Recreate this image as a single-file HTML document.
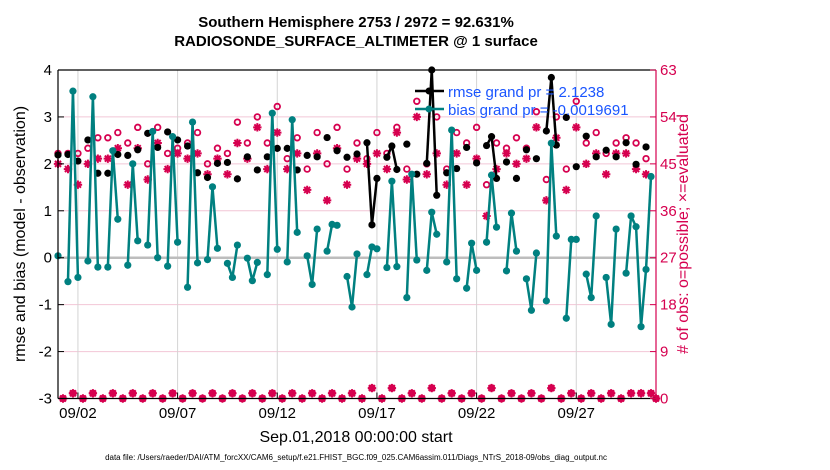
<!DOCTYPE html>
<html><head><meta charset="utf-8">
<style>
body{margin:0;background:#fff;}
svg{display:block;font-family:"Liberation Sans",sans-serif;}
</style></head>
<body>
<svg id="chart" width="830" height="470" viewBox="0 0 830 470" xmlns="http://www.w3.org/2000/svg">
<text x="356" y="27" font-size="15" font-weight="bold" text-anchor="middle">Southern Hemisphere 2753 / 2972 = 92.631%</text>
<text x="356" y="46" font-size="15" font-weight="bold" text-anchor="middle">RADIOSONDE_SURFACE_ALTIMETER @ 1 surface</text>
<text transform="translate(25,234) rotate(-90)" font-size="16" text-anchor="middle">rmse and bias (model - observation)</text>
<text transform="translate(688,234) rotate(-90)" font-size="16" fill="#d6004f" text-anchor="middle"># of obs: o=possible; ×=evaluated</text>
<text x="356" y="442" font-size="16" text-anchor="middle">Sep.01,2018 00:00:00 start</text>
<text x="356" y="460" font-size="8" text-anchor="middle">data file: /Users/raeder/DAI/ATM_forcXX/CAM6_setup/f.e21.FHIST_BGC.f09_025.CAM6assim.011/Diags_NTrS_2018-09/obs_diag_output.nc</text>
<g id="grid"></g>
<g id="marks"></g>
<g id="axes"></g>
<g id="legend">
  <line x1="415" y1="91" x2="444" y2="91" stroke="#000" stroke-width="2.5"/>
  <circle cx="429" cy="91" r="3.5" fill="#000"/>
  <text x="448" y="97" font-size="15" fill="#1a55ff">rmse grand pr = 2.1238</text>
  <line x1="415" y1="109" x2="444" y2="109" stroke="#008080" stroke-width="2.5"/>
  <circle cx="429" cy="109" r="3.5" fill="#008080"/>
  <text x="448" y="115" font-size="15" fill="#1a55ff">bias grand pr = -0.0019691</text>
</g>
</svg>
<script>
// 6-hourly slots starting Sep 01 00Z; slot index -> time
const bias = [0.04,null,-0.51,3.55,-0.42,null,-0.07,3.43,-0.2,null,-0.2,2.28,0.82,null,-0.16,2.0,0.36,null,0.27,2.69,0.0,null,-0.18,2.58,0.33,null,-0.63,2.89,-0.11,null,-0.04,1.51,0.2,null,-0.12,-0.42,0.27,null,-0.01,-0.49,-0.1,null,-0.36,3.08,0.18,null,-0.09,2.94,0.54,null,0.04,-0.57,0.61,null,0.14,0.71,0.69,null,-0.4,-1.05,0.08,null,-0.36,0.23,0.19,null,-0.21,1.63,-0.19,null,-0.85,1.78,-0.05,null,-0.27,0.97,0.5,null,-0.09,2.72,-0.45,null,-0.65,0.31,-0.27,null,0.33,1.76,0.65,null,-0.28,0.95,0.14,null,-0.45,-1.12,0.1,null,-0.92,2.44,0.46,null,-1.29,0.39,0.39,null,-0.35,-0.85,0.89,null,-0.42,-1.42,0.61,null,-0.33,0.89,0.66,-1.47,-0.25,1.73];
const rmse = [2.19,null,2.2,null,2.06,null,2.51,null,1.8,null,1.8,null,2.2,null,2.18,null,2.3,null,2.65,null,2.35,null,2.68,null,2.51,null,2.38,null,1.81,null,1.71,null,2.01,null,2.03,null,1.68,null,2.15,null,1.87,null,2.15,null,2.33,null,2.33,null,1.87,null,2.18,null,2.15,null,2.56,null,2.28,null,2.14,null,2.21,null,2.45,0.70,1.69,null,2.14,2.38,1.88,null,2.42,null,1.78,null,2.01,4.0,1.33,null,1.81,null,1.9,null,2.35,null,2.02,null,2.39,2.58,1.69,null,2.04,null,1.69,null,2.3,null,2.11,null,2.7,3.84,2.4,null,2.99,null,1.94,null,2.59,null,2.15,null,2.29,null,2.15,null,2.45,null,1.99,null,2.36,null];
const possible = [47,0,47,1,47,0,48,1,50,0,50,1,51,0,49,1,52,0,45,1,52,0,47,1,48,0,49,1,51,0,45,1,48,0,47,1,53,0,49,1,54,0,49,1,56,0,46,1,50,0,44,1,51,0,45,1,52,0,44,1,49,0,46,2,51,0,47,2,52,0,44,1,57,0,45,2,54,0,44,1,51,0,49,1,52,0,41,2,49,0,48,1,50,0,48,1,55,0,42,2,54,0,44,1,57,0,49,1,51,0,47,1,49,0,50,1,49,1,46,1,0];
const evaluated = [45,0,44,1,41,0,45,1,46,0,46,1,48,0,41,1,48,0,42,1,49,0,44,1,47,0,46,1,47,0,43,1,46,0,43,1,49,0,46,1,52,0,44,1,51,0,44,1,47,0,40,1,47,0,38,1,48,0,41,1,46,0,45,2,47,0,44,2,51,0,42,1,54,0,43,2,47,0,41,1,47,0,41,1,46,0,35,2,44,0,47,1,45,0,46,1,52,0,38,2,50,0,40,1,52,0,45,1,47,0,43,1,47,0,47,1,44,1,43,1,0];
const leftTicks = [-3,-2,-1,0,1,2,3,4];
const rightTicks = [0,9,18,27,36,45,54,63];
const dateTicks = ["09/02","09/07","09/12","09/17","09/22","09/27"];
const dateTickDays = [1,6,11,16,21,26];

const X0=58, X1=656, YT=70, YB=398.5;
const xDay = d => X0 + (X1-X0)*d/30;
const xSlot = i => xDay(i/4);
const yL = v => YB - (v+3)*(YB-YT)/7;
const yR = c => YB - c*(YB-YT)/63;
const NS="http://www.w3.org/2000/svg";
function mk(tag, parent, attrs){const e=document.createElementNS(NS,tag);for(const k in attrs)e.setAttribute(k,attrs[k]);parent.appendChild(e);return e;}
const grid=document.getElementById('grid'), marks=document.getElementById('marks'), axes=document.getElementById('axes');
const RED="#d6004f";

// grid
leftTicks.forEach(v=>{ if(v===0||v===-3||v===4) return;
  const g=mk('line',grid,{x1:X0,x2:X1,y1:yL(v),y2:yL(v),stroke:'#f2c6d6','stroke-width':1});
  
  
});
dateTickDays.forEach(d=>{
  const g=mk('line',grid,{x1:xDay(d),x2:xDay(d),y1:YT,y2:YB,stroke:'#d4d4d4','stroke-width':1});
  
  
});
const zl=mk('line',grid,{x1:X0,x2:X1,y1:yL(0),y2:yL(0),stroke:'#bdbdbd','stroke-width':2.5});



// obs counts
function drawCircle(i,c){
  const e=mk('circle',marks,{cx:xSlot(i),cy:yR(c),r:2.8,fill:'none',stroke:RED,'stroke-width':1.8});
  
  
}
function drawStar(i,c){
  const x=xSlot(i), y=yR(c), r=4.2, r2=3;
  const d=`M${x-r},${y}H${x+r}M${x},${y-r}V${y+r}M${x-r2},${y-r2}L${x+r2},${y+r2}M${x-r2},${y+r2}L${x+r2},${y-r2}`;
  const e=mk('path',marks,{d:d,stroke:RED,'stroke-width':2,fill:'none'});
  
  
}
possible.forEach((c,i)=>{ if(c!==null) drawCircle(i,c); });
evaluated.forEach((c,i)=>{ if(c!==null) drawStar(i,c); });

function drawSeries(arr,color,name){
  for(let i=0;i<arr.length-1;i++){
    if(arr[i]!==null && arr[i+1]!==null){
      const l=mk('line',marks,{x1:xSlot(i),y1:yL(arr[i]),x2:xSlot(i+1),y2:yL(arr[i+1]),stroke:color,'stroke-width':2.5});
      
      
    }
  }
  arr.forEach((v,i)=>{ if(v===null) return;
    const p=mk('circle',marks,{cx:xSlot(i),cy:yL(v),r:3.6,fill:color});
    
    
  });
}
drawSeries(rmse,'#000','rmse');
drawSeries(bias,'#008080','bias');

// axes frame
const fr=[[X0,YT,X1,YT,'#000'],[X0,YT,X0,YB,'#000'],[X0,YB,X1,YB,'#000'],[X1,YT,X1,YB,RED]];
fr.forEach(f=>{const l=mk('line',axes,{x1:f[0],y1:f[1],x2:f[2],y2:f[3],stroke:f[4],'stroke-width':1.2});
  
  });
leftTicks.forEach(v=>{
  const t=mk('line',axes,{x1:X0,x2:X0+6,y1:yL(v),y2:yL(v),stroke:'#000','stroke-width':1});
  
  
  const tx=mk('text',axes,{x:X0-6,y:yL(v)+5,'font-size':15,'text-anchor':'end'});
  tx.textContent=String(v);
  
  
});
rightTicks.forEach(c=>{
  const t=mk('line',axes,{x1:X1-6,x2:X1,y1:yR(c),y2:yR(c),stroke:RED,'stroke-width':1});
  
  
  const tx=mk('text',axes,{x:X1+4,y:yR(c)+5,'font-size':15,fill:RED});
  tx.textContent=String(c);
  
  
});
dateTicks.forEach((lab,k)=>{
  const x=xDay(dateTickDays[k]);
  const t=mk('line',axes,{x1:x,x2:x,y1:YB,y2:YB-6,stroke:'#000','stroke-width':1});
  
  
  const tx=mk('text',axes,{x:x,y:418,'font-size':15,'text-anchor':'middle'});
  tx.textContent=lab;
  
  
});
</script>
</body></html>
